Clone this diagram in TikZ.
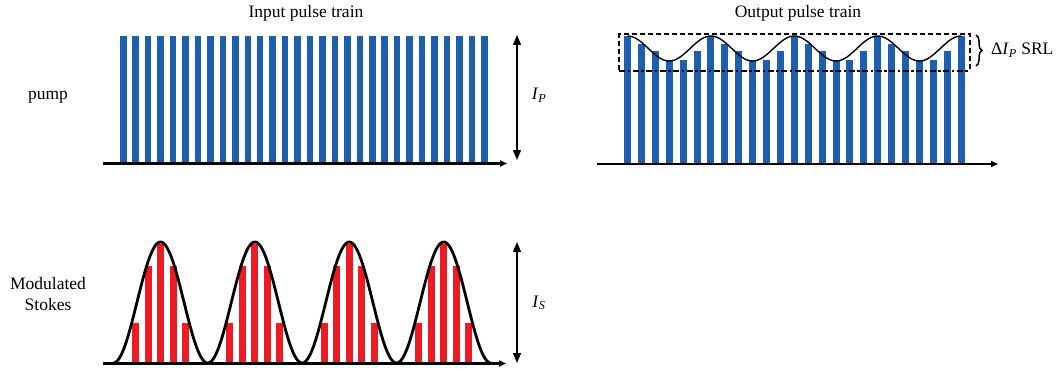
\documentclass[tikz,border=0pt]{standalone}
\usepackage{fontspec}
\setmainfont{Liberation Serif}
\usetikzlibrary{arrows.meta,decorations.pathreplacing}
\definecolor{pblue}{RGB}{30,94,175}
\definecolor{sred}{RGB}{237,28,36}
\begin{document}
\begin{tikzpicture}[x=1pt,y=-1pt,
  font=\fontsize{17.5}{21}\selectfont,
  lbl/.style={inner sep=0pt},
  axisline/.style={line width=2.5pt,-{Triangle[length=7pt,width=6pt]}},
  dblarrow/.style={line width=1.3pt,{Triangle[length=10pt,width=8pt]}-{Triangle[length=10pt,width=8pt]}},
  pumpbar/.style={fill=pblue},
  stokesbar/.style={fill=sred},
  envcurve/.style={line width=2.8pt,black},
  modcurve/.style={line width=1.4pt,black},
  dashbox/.style={line width=2pt,dash pattern=on 5pt off 3pt},
  dashdotline/.style={line width=2.2pt,dash pattern=on 6pt off 2.5pt on 2.5pt off 2.5pt},
  bracestyle/.style={line width=1.5pt,decorate,decoration={brace,amplitude=6pt,aspect=0.5}}
]
\useasboundingbox (0,0) rectangle (1063,369);

% titles and labels
\node[lbl] (tin) at (306,13) {Input pulse train};
\node[lbl] (tout) at (798,13) {Output pulse train};
\node[lbl] (pump) at (48,97) {pump};
\node[lbl,align=center] (stokes) at (48,294) {Modulated\\Stokes};
\node[lbl] (ip) at (539,95) {\textit{I}\textsubscript{\textit{P}}};
\node[lbl] (is) at (539,303) {\textit{I}\textsubscript{\textit{S}}};
\node[lbl,anchor=west] (srl) at (991,50) {Δ\textit{I}\textsubscript{\textit{P}} SRL};

% input pump bars
\foreach \i in {0,...,29}
  \fill[pumpbar] ({120+12.45*\i},36.5) rectangle ++(6.5,126.5);

% output pump bars
\foreach \k in {0,...,3}
  \foreach \j/\t in {0/36,1/44,2/51.5,3/60.5,4/60.5,5/51.5}
    \fill[pumpbar] ({624+13.9*(6*\k+\j)},\t) rectangle ++(7,{164-\t});
\fill[pumpbar] ({624+13.9*24},36) rectangle ++(7,128);

% stokes bars
\foreach \k in {0,...,3}
  \foreach \d/\t in {-25/323,-12.5/266,0/243.5,12.5/266,25/323}
    \fill[stokesbar] ({160.5+94.4*\k+\d-3.5},\t) rectangle ++(7,{363-\t});

% curves
\draw[envcurve] plot[domain=113.3:491.2,samples=300] (\x,{363-60.5*(1+cos(((\x-160.5)/94.4)*360))});
\draw[modcurve] plot[domain=627.5:961.1,samples=200] (\x,{48.5-12.5*cos(((\x-627.5)/83.4)*360)});

% dashed box
\coordinate (bl) at (619,70);
\coordinate (tl) at (619,34.5);
\coordinate (tr) at (970,34.5);
\coordinate (br) at (970,70);
\draw[dashbox] (bl) -- (tl) -- (tr) -- (br);
\coordinate (dl) at (619,71);
\coordinate (dr) at (968,71);
\draw[dashdotline] (dl) -- (dr);

% brace
\coordinate (bt) at (976,35);
\coordinate (bb) at (976,66);
\draw[bracestyle] (bt) -- (bb);

% axes
\coordinate (a1s) at (103,163.5);
\coordinate (a1e) at (507,163.5);
\draw[axisline] (a1s) -- (a1e);
\coordinate (a2s) at (597,164);
\coordinate (a2e) at (998,164);
\draw[axisline] (a2s) -- (a2e);
\coordinate (a3s) at (103,363.5);
\coordinate (a3e) at (506,363.5);
\draw[axisline] (a3s) -- (a3e);

% intensity arrows
\coordinate (ipt) at (517,35);
\coordinate (ipb) at (517,160);
\draw[dblarrow] (ipt) -- (ipb);
\coordinate (ist) at (517,242);
\coordinate (isb) at (517,363);
\draw[dblarrow] (ist) -- (isb);
\end{tikzpicture}
\end{document}
